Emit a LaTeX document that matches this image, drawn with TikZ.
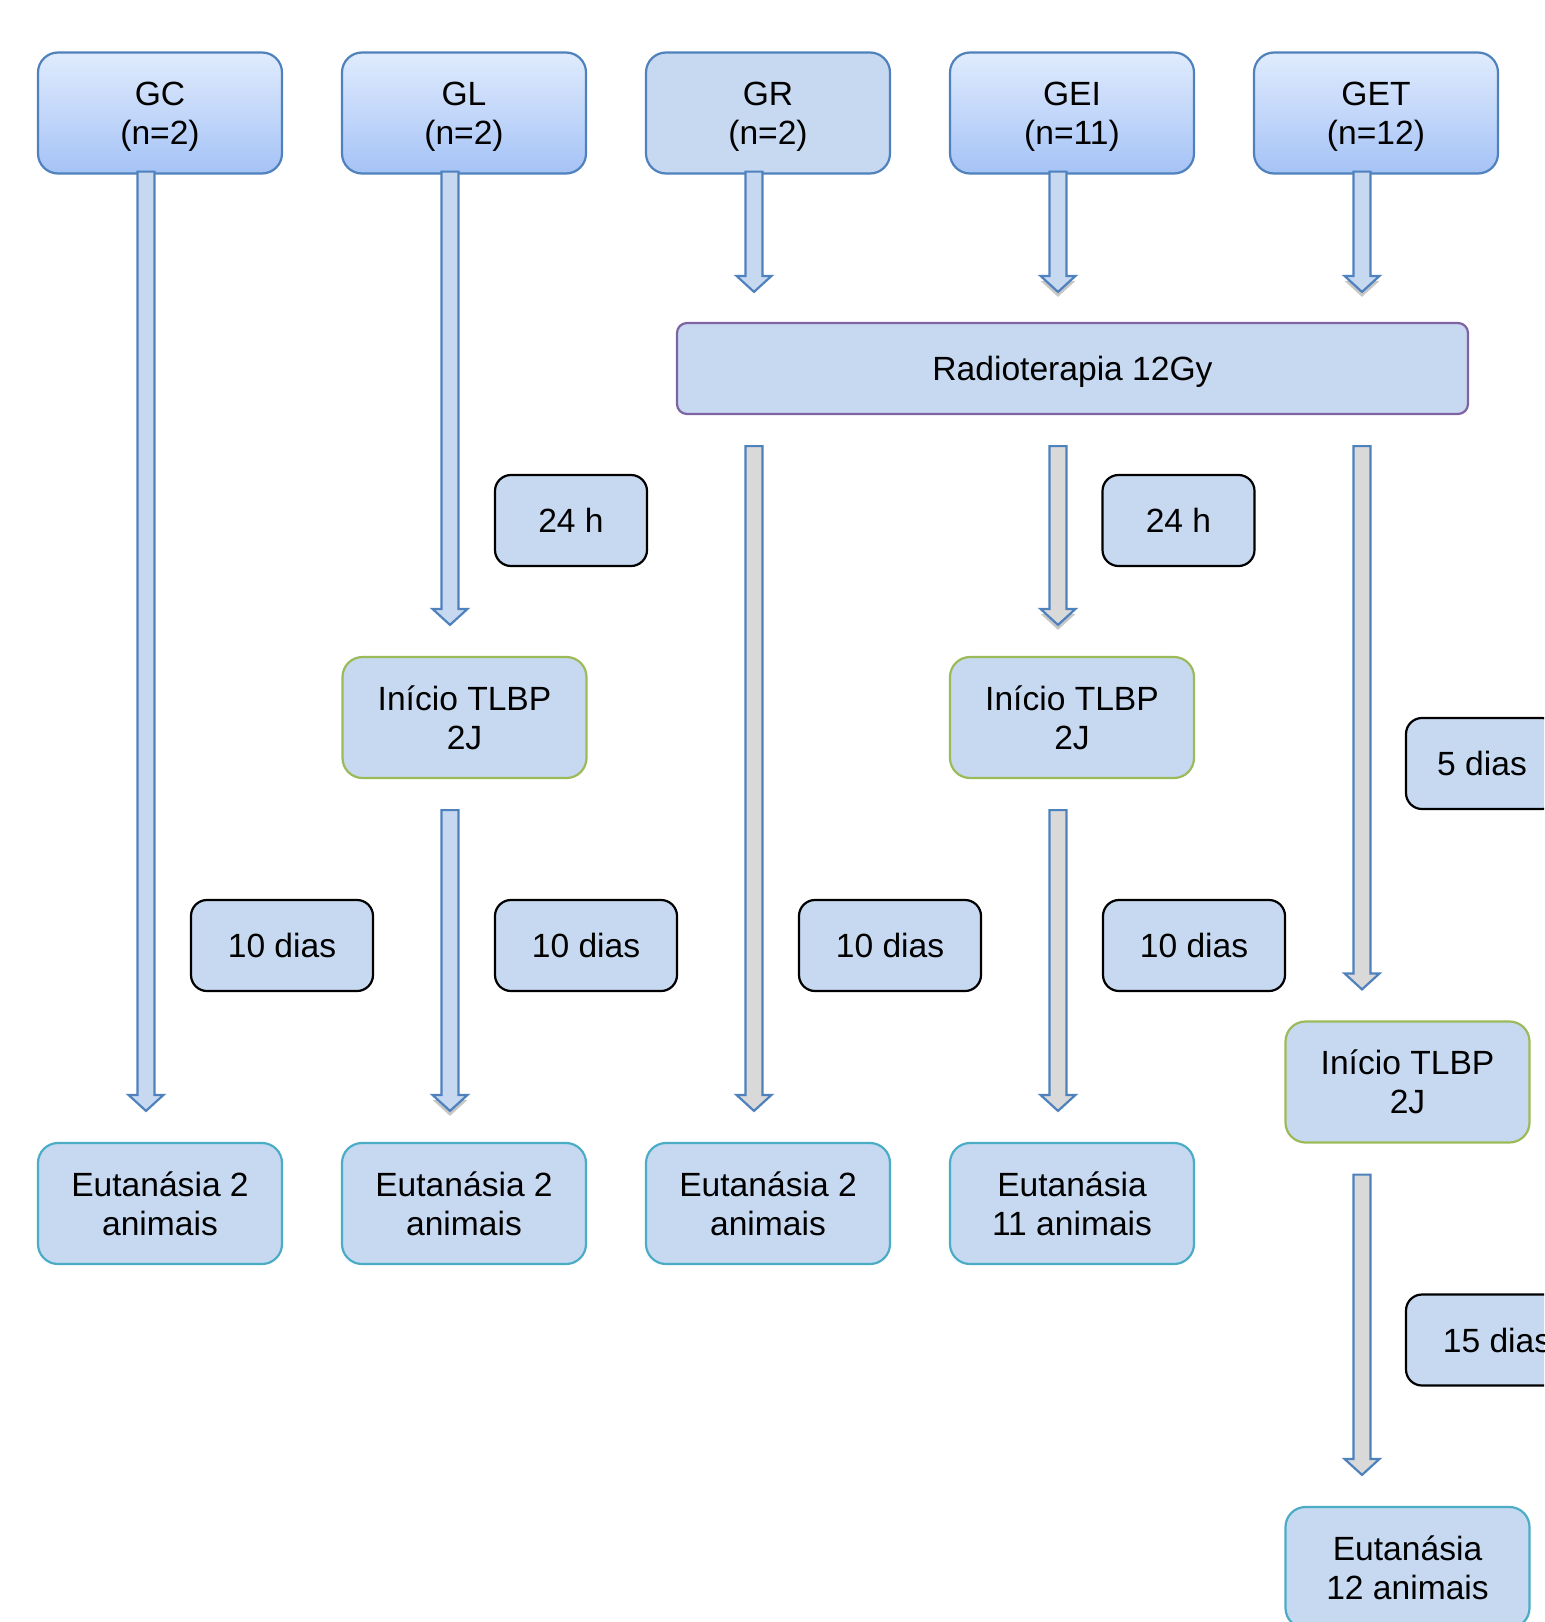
\documentclass[tikz,border=0pt]{standalone}
\usepackage{fontspec}
\setmainfont{Liberation Sans}
\usepackage{tikz}
\usetikzlibrary{calc}
\usetikzlibrary{shadows}
\usepackage{xcolor}

\definecolor{boxfill}{HTML}{C6D9F1}
\definecolor{blueline}{HTML}{4F81BD}
\definecolor{purpleline}{HTML}{8064A2}
\definecolor{greenline}{HTML}{9BBB59}
\definecolor{tealline}{HTML}{4BACC6}
\definecolor{greyfill}{HTML}{D9D9D9}
\definecolor{gradtop}{HTML}{E0EBFD}
\definecolor{gradbot}{HTML}{A5C3F6}

% block arrow from a start coordinate down to a tip coordinate
\newcommand{\blockarrow}[3][]{%
  \draw[barrow,#1] ($(#2)+(-8.5,0)$) -- ($(#3)+(-8.5,-16)$) -- ($(#3)+(-17.5,-16)$) -- (#3)
    -- ($(#3)+(17.5,-16)$) -- ($(#3)+(8.5,-16)$) -- ($(#2)+(8.5,0)$) -- cycle;}

\begin{document}
\begin{tikzpicture}[
    x=0.5pt, y=-0.5pt,
    every node/.style={font=\fontsize{16.8}{19.5}\selectfont, align=center, inner sep=2pt},
    group/.style={rectangle, draw=blueline, line width=1.1pt, rounded corners=10pt, minimum width=122pt, minimum height=60.5pt, text depth=0pt, top color=gradtop, bottom color=gradbot},
    stage/.style={rectangle, line width=1.1pt, rounded corners=10pt, minimum width=122pt, minimum height=60.5pt, fill=boxfill},
    radio/.style={rectangle, draw=purpleline, line width=1.1pt, rounded corners=5pt, minimum width=395.5pt, minimum height=45.5pt, text depth=0pt, fill=boxfill},
    timebox/.style={rectangle, draw=black, line width=1.1pt, rounded corners=8pt, minimum height=45.5pt, fill=boxfill},
    barrow/.style={draw=blueline, line width=1.1pt, fill=boxfill, line join=miter},
    greyarrow/.style={fill=greyfill},
    shade/.style={drop shadow={shadow xshift=0pt, shadow yshift=-2.5pt, fill=black!22, opacity=1}}
]
    \useasboundingbox (0,0) rectangle (1544,1622);
    \clip (0,0) rectangle (1544,1622);

    % Groups
    \node[group] (gc) at (160,113) {GC\\(n=2)};
    \node[group] (gl) at (464,113) {GL\\(n=2)};
    \node[stage, draw=blueline, text depth=0pt] (gr) at (768,113) {GR\\(n=2)};
    \node[group] (gei) at (1072,113) {GEI\\(n=11)};
    \node[group] (get) at (1376,113) {GET\\(n=12)};

    % Radiotherapy
    \node[radio] (radio) at (1072.5,368.5) {Radioterapia 12Gy};

    % Treatment start
    \node[stage, draw=greenline] (ini-gl) at (464.5,717.5) {Início TLBP\\2J};
    \node[stage, draw=greenline] (ini-gei) at (1072,717.5) {Início TLBP\\2J};
    \node[stage, draw=greenline] (ini-get) at (1407.5,1082) {Início TLBP\\2J};

    % Euthanasia
    \node[stage, draw=tealline] (eut-gc) at (160,1203.5) {Eutanásia 2\\animais};
    \node[stage, draw=tealline] (eut-gl) at (464,1203.5) {Eutanásia 2\\animais};
    \node[stage, draw=tealline] (eut-gr) at (768,1203.5) {Eutanásia 2\\animais};
    \node[stage, draw=tealline] (eut-gei) at (1072,1203.5) {Eutanásia\\11 animais};
    \node[stage, draw=tealline] (eut-get) at (1407.5,1567.5) {Eutanásia\\12 animais};

    % Time intervals
    \node[timebox, minimum width=76pt] (h24-gl) at (571,520.5) {24 h};
    \node[timebox, minimum width=76pt] (h24-gei) at (1178.5,520.5) {24 h};
    \node[timebox, minimum width=91pt] (d10-gc) at (282,945.5) {10 dias};
    \node[timebox, minimum width=91pt] (d10-gl) at (586,945.5) {10 dias};
    \node[timebox, minimum width=91pt] (d10-gr) at (890,945.5) {10 dias};
    \node[timebox, minimum width=91pt] (d10-gei) at (1194,945.5) {10 dias};
    \node[timebox, minimum width=76pt] (d5-get) at (1482,763.5) {5 dias};
    \node[timebox, minimum width=91pt] (d15-get) at (1497,1340) {15 dias};

    % Arrow ends
    \coordinate (gc-s) at ($(gc.south)+(-14,-3)$);
    \coordinate (gc-e) at ($(gc.south |- eut-gc.north)+(-14,-31)$);
    \coordinate (gl-s) at ($(gl.south)+(-14,-3)$);
    \coordinate (gl-e) at ($(gl.south |- ini-gl.north)+(-14,-31)$);
    \coordinate (gl-s2) at ($(gl.south |- ini-gl.south)+(-14,31)$);
    \coordinate (gl-e2) at ($(gl.south |- eut-gl.north)+(-14,-31)$);
    \coordinate (gr-s) at ($(gr.south)+(-14,-3)$);
    \coordinate (gr-e) at ($(gr.south |- radio.north)+(-14,-30)$);
    \coordinate (gr-s2) at ($(gr.south |- radio.south)+(-14,31)$);
    \coordinate (gr-e2) at ($(gr.south |- eut-gr.north)+(-14,-31)$);
    \coordinate (gei-s) at ($(gei.south)+(-14,-3)$);
    \coordinate (gei-e) at ($(gei.south |- radio.north)+(-14,-30)$);
    \coordinate (gei-s2) at ($(gei.south |- radio.south)+(-14,31)$);
    \coordinate (gei-e2) at ($(gei.south |- ini-gei.north)+(-14,-31)$);
    \coordinate (gei-s3) at ($(gei.south |- ini-gei.south)+(-14,31)$);
    \coordinate (gei-e3) at ($(gei.south |- eut-gei.north)+(-14,-31)$);
    \coordinate (get-s) at ($(get.south)+(-14,-3)$);
    \coordinate (get-e) at ($(get.south |- radio.north)+(-14,-30)$);
    \coordinate (get-s2) at ($(get.south |- radio.south)+(-14,31)$);
    \coordinate (get-e2) at ($(get.south |- ini-get.north)+(-14,-31)$);
    \coordinate (get-s3) at ($(get.south |- ini-get.south)+(-14,31)$);
    \coordinate (get-e3) at ($(get.south |- eut-get.north)+(-14,-31)$);

    % Arrows
    \blockarrow{gc-s}{gc-e}
    \blockarrow{gl-s}{gl-e}
    \blockarrow[shade]{gl-s2}{gl-e2}
    \blockarrow{gr-s}{gr-e}
    \blockarrow[greyarrow]{gr-s2}{gr-e2}
    \blockarrow[shade]{gei-s}{gei-e}
    \blockarrow[greyarrow, shade]{gei-s2}{gei-e2}
    \blockarrow[greyarrow]{gei-s3}{gei-e3}
    \blockarrow[shade]{get-s}{get-e}
    \blockarrow[greyarrow]{get-s2}{get-e2}
    \blockarrow[greyarrow]{get-s3}{get-e3}
\end{tikzpicture}
\end{document}
